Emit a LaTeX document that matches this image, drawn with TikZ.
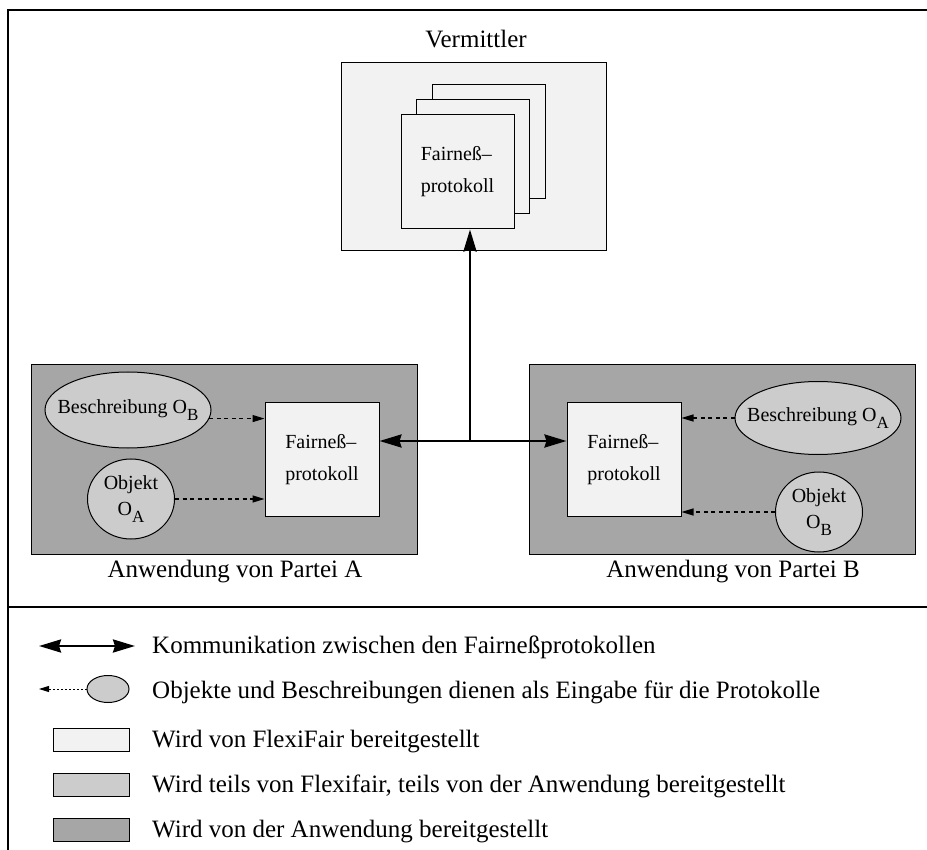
\documentclass[tikz,border=0pt]{standalone}
\usepackage{fontspec}
\setmainfont{Liberation Serif}
\usetikzlibrary{arrows.meta,shapes.geometric}
\definecolor{pale}{HTML}{F2F2F2}
\definecolor{midgray}{HTML}{CCCCCC}
\definecolor{appgray}{HTML}{A6A6A6}
% letter O with a lowered, slightly reduced subscript letter
\newcommand{\Osub}[1]{O\raisebox{-0.38em}{\fontsize{17}{17}\selectfont #1}}

\begin{document}
\begin{tikzpicture}[x=1pt,y=-1pt,
  box/.style={draw, line width=1pt, rectangle, inner sep=0pt},
  palebox/.style={box, fill=pale},
  appbox/.style={box, fill=appgray},
  obj/.style={ellipse, draw, line width=1pt, fill=midgray, inner sep=0pt},
  big/.style={font=\fontsize{25}{30}\selectfont, inner sep=0pt},
  small/.style={font=\fontsize{20}{32}\selectfont, align=left},
  objtext/.style={font=\fontsize{20}{26}\selectfont, align=center},
  comm/.style={line width=2.5pt, -{Stealth[length=22pt,width=13pt,inset=2pt]}},
  commboth/.style={line width=2.5pt, {Stealth[length=22pt,width=13pt,inset=2pt]}-{Stealth[length=22pt,width=13pt,inset=2pt]}},
  feed/.style={line width=1.1pt, dash pattern=on 4pt off 3.5pt, -{Triangle[length=12pt,width=7pt]}}
]
\useasboundingbox (0,0) rectangle (927,850);

% outer frame and legend divider
\draw[line width=1.5pt] (8,850) -- (8,10) -- (927,10);
\draw[line width=1.5pt] (8,607) -- (927,607);

% broker with stacked protocol instances
\node[big, anchor=base] (vtitle) at (476,48) {Vermittler};
\node[palebox, minimum width=265pt, minimum height=188pt] (verm) at (473.5,157) {};
\node[palebox, minimum width=113pt, minimum height=114pt] (page3) at (488.5,142) {};
\node[palebox, minimum width=113pt, minimum height=114pt] (page2) at (473,157) {};
\node[palebox, minimum width=113pt, minimum height=114pt, small] (front) at (457.5,172) {Fairneß–\\protokoll};

% application of party A
\node[appbox, minimum width=386pt, minimum height=189pt] (appA) at (224,459.5) {};
\node[palebox, minimum width=114pt, minimum height=113pt, small] (protoA) at (322,459.5) {Fairneß–\\protokoll};
\node[obj, minimum width=166pt, minimum height=76pt, font=\fontsize{20}{24}\selectfont] (descA) at (128,410) {\makebox[0pt]{Beschreibung \Osub{B}}};
\node[obj, minimum width=87pt, minimum height=80pt, objtext] (objA) at (131,499) {Objekt\\\Osub{A}};
\node[big, anchor=base] (labA) at (235,577) {Anwendung von Partei A};

% application of party B
\node[appbox, minimum width=386pt, minimum height=189pt] (appB) at (722,459.5) {};
\node[palebox, minimum width=114pt, minimum height=113pt, small] (protoB) at (624,459.5) {Fairneß–\\protokoll};
\node[obj, minimum width=166pt, minimum height=73pt, font=\fontsize{20}{24}\selectfont] (descB) at (818,418) {\makebox[0pt]{Beschreibung \Osub{A}}};
\node[obj, minimum width=87pt, minimum height=80pt, objtext] (objB) at (819,512) {Objekt\\\Osub{B}};
\node[big, anchor=base] (labB) at (733,577) {Anwendung von Partei B};

% inputs to the protocols
\draw[feed] (descA.-6) -- (descA.-6 -| protoA.west);
\draw[feed] (objA.east) -- (objA.east -| protoA.west);
\draw[feed] (descB.west) -- (descB.west -| protoB.east);
\draw[feed] (objB.west) -- (objB.west -| protoB.east);

% communication between the protocols
\coordinate (hub) at (470,441);
\draw[comm] (hub) -- (hub |- front.south);
\draw[commboth] (hub -| protoA.east) -- (hub -| protoB.west);

% legend
\coordinate (k1) at (39,646);
\coordinate (k2) at (135,646);
\draw[commboth] (k1) -- (k2);
\node[big, anchor=base west] (t1) at (152,653) {Kommunikation zwischen den Fairneßprotokollen};

\node[obj, minimum width=42pt, minimum height=27pt] (legobj) at (108,689) {};
\coordinate (legtip) at (39,689);
\draw[line width=1pt, dash pattern=on 2pt off 2pt, -{Triangle[length=10pt,width=6pt]}] (legobj.west) -- (legtip);
\node[big, anchor=base west] (t2) at (152,698) {Objekte und Beschreibungen dienen als Eingabe für die Protokolle};

\node[palebox, minimum width=76pt, minimum height=23pt] (sw1) at (91,739.5) {};
\node[big, anchor=base west] (t3) at (152,747) {Wird von FlexiFair bereitgestellt};
\node[box, fill=midgray, minimum width=76pt, minimum height=23pt] (sw2) at (91,784.5) {};
\node[big, anchor=base west] (t4) at (152,792) {Wird teils von Flexifair, teils von der Anwendung bereitgestellt};
\node[appbox, minimum width=76pt, minimum height=23pt] (sw3) at (91,829.5) {};
\node[big, anchor=base west] (t5) at (152,837) {Wird von der Anwendung bereitgestellt};
\end{tikzpicture}
\end{document}
